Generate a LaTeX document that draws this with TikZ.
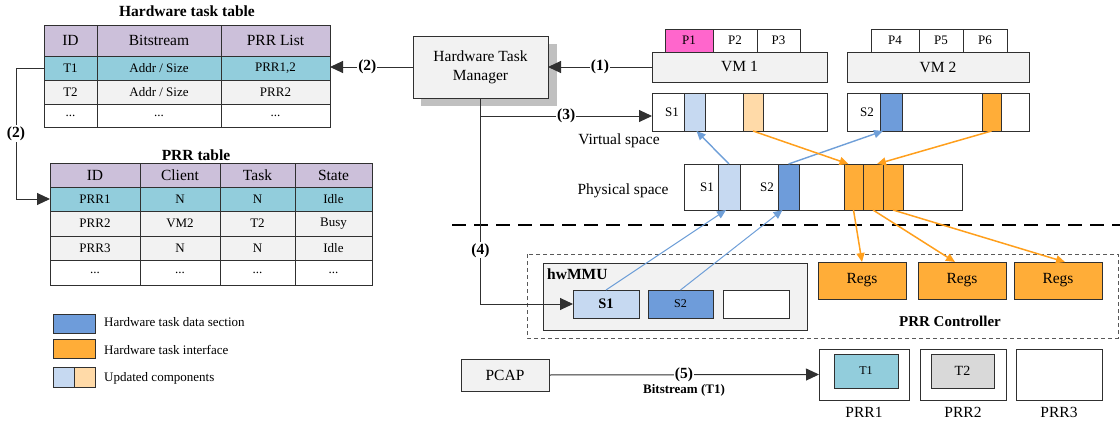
\documentclass[tikz,border=0pt]{standalone}
\usepackage{fontspec}
\setmainfont{Liberation Serif}
\usetikzlibrary{arrows.meta,fit,calc}
\definecolor{hdr}{HTML}{CCC0DA}
\definecolor{cyanrow}{HTML}{92CDDC}
\definecolor{grayrow}{HTML}{F2F2F2}
\definecolor{blu}{HTML}{6E9CDA}
\definecolor{lblu}{HTML}{C6D9F1}
\definecolor{org}{HTML}{FFAD38}
\definecolor{lorg}{HTML}{FFDAA8}
\definecolor{mag}{HTML}{FF66CC}
\definecolor{shad}{HTML}{C0C0C0}
\definecolor{linec}{HTML}{303030}
\definecolor{orgline}{HTML}{FF9F1C}
\definecolor{bluline}{HTML}{6F9FD8}
\definecolor{grayin}{HTML}{D9D9D9}
\newcommand{\mybox}[7]{%
  \node[#1, fit={(#3,#4)(#5,#6)}] (#2) {};
  \node[#1, draw=none, fill=none, inner sep=0pt, anchor=center] at (#2.center) {#7};}
\tikzset{
  bxs/.style={draw=linec, line width=0.9pt, inner sep=0pt, outer sep=0pt},
  fbig/.style={font=\fontsize{15.5}{18}\selectfont},
  fsmall/.style={font=\fontsize{13}{15}\selectfont},
  cellh/.style={bxs, fill=hdr, fbig},
  cellc/.style={bxs, fill=cyanrow, fsmall},
  cellg/.style={bxs, fill=grayrow, fsmall},
  cellw/.style={bxs, fill=white, fsmall},
  graybox/.style={bxs, fill=grayrow, fbig},
  whitebox/.style={bxs, fill=white},
  bluebox/.style={bxs, fill=blu},
  lbluebox/.style={bxs, fill=lblu},
  orgbox/.style={bxs, fill=org, fbig},
  lorgbox/.style={bxs, fill=lorg},
  lbl/.style={font=\bfseries\fontsize{15.5}{18}\selectfont, fill=white, inner sep=1pt},
  conn/.style={draw=linec, line width=1pt},
  arr/.style={conn, -{Triangle[length=13pt,width=12pt]}},
  barr/.style={draw=bluline, line width=1.4pt, -{Triangle[length=9pt,width=8pt]}},
  bthin/.style={draw=bluline, line width=1pt, -{Triangle[length=9pt,width=8pt]}},
  oarr/.style={draw=orgline, line width=1.5pt, -{Triangle[length=9pt,width=8pt]}},
  txt/.style={fbig, inner sep=0pt},
  stxt/.style={fsmall, inner sep=0pt},
}
\begin{document}
\begin{tikzpicture}[x=1pt,y=-1pt]
\useasboundingbox (0,0) rectangle (1120,423);

% ---------- Hardware task table
\node[font=\bfseries\fontsize{15.5}{18}\selectfont] (tt1) at (187,11) {Hardware task table};
\mybox{cellh}{h1a}{44}{25}{97}{56}{ID}
\mybox{cellh}{h1b}{97}{25}{221}{56}{Bitstream}
\mybox{cellh}{h1c}{221}{25}{330}{56}{PRR List}
\mybox{cellc}{t1id}{44}{56}{97}{80}{T1}
\mybox{cellc}{t1bs}{97}{56}{221}{80}{Addr / Size}
\mybox{cellc}{t1prr}{221}{56}{330}{80}{PRR1,2}
\mybox{cellg}{t2id}{44}{80}{97}{104}{T2}
\mybox{cellg}{t2bs}{97}{80}{221}{104}{Addr / Size}
\mybox{cellg}{t2prr}{221}{80}{330}{104}{PRR2}
\mybox{cellw}{t3id}{44}{104}{97}{127}{...}
\mybox{cellw}{t3bs}{97}{104}{221}{127}{...}
\mybox{cellw}{t3prr}{221}{104}{330}{127}{...}

% ---------- PRR table
\node[font=\bfseries\fontsize{15.5}{18}\selectfont] (tt2) at (196,155) {PRR table};
\mybox{cellh}{h2a}{50}{163}{140}{187}{ID}
\mybox{cellh}{h2b}{140}{163}{220}{187}{Client}
\mybox{cellh}{h2c}{220}{163}{295}{187}{Task}
\mybox{cellh}{h2d}{295}{163}{372}{187}{State}
\mybox{cellc}{p1id}{50}{187}{140}{211}{PRR1}
\mybox{cellc}{p1b}{140}{187}{220}{211}{N}
\mybox{cellc}{p1c}{220}{187}{295}{211}{N}
\mybox{cellc}{p1d}{295}{187}{372}{211}{Idle}
\mybox{cellg}{p2id}{50}{211}{140}{236}{PRR2}
\mybox{cellg}{p2b}{140}{211}{220}{236}{VM2}
\mybox{cellg}{p2c}{220}{211}{295}{236}{T2}
\mybox{cellg}{p2d}{295}{211}{372}{236}{Busy}
\mybox{cellg}{p3id}{50}{236}{140}{260}{PRR3}
\mybox{cellg}{p3b}{140}{236}{220}{260}{N}
\mybox{cellg}{p3c}{220}{236}{295}{260}{N}
\mybox{cellg}{p3d}{295}{236}{372}{260}{Idle}
\mybox{cellw}{p4id}{50}{260}{140}{285}{...}
\mybox{cellw}{p4b}{140}{260}{220}{285}{...}
\mybox{cellw}{p4c}{220}{260}{295}{285}{...}
\mybox{cellw}{p4d}{295}{260}{372}{285}{...}

% ---------- legend
\mybox{bluebox}{leg1}{53}{314}{95}{333}{}
\mybox{orgbox}{leg2}{53}{339}{95}{358}{}
\mybox{lbluebox}{leg3a}{53}{367}{74}{387}{}
\mybox{lorgbox}{leg3b}{74}{367}{95}{387}{}
\node[stxt, anchor=west] (lt1) at (104,322) {Hardware task data section};
\node[stxt, anchor=west] (lt2) at (104,350) {Hardware task interface};
\node[stxt, anchor=west] (lt3) at (104,378) {Updated components};

% ---------- Hardware Task Manager
\fill[shad] (421,44) rectangle (557,106);
\mybox{graybox, align=center, font=\fontsize{15.5}{19}\selectfont}{htm}{413}{36}{548}{98}{Hardware Task\\Manager}

% ---------- VMs
\mybox{bxs, fill=mag, fsmall}{pa}{665}{29}{713}{52}{P1}
\mybox{cellw}{pb}{713}{29}{757}{52}{P2}
\mybox{cellw}{pc}{757}{29}{800}{52}{P3}
\mybox{graybox}{vm1}{652}{52}{827}{82}{VM 1}
\mybox{cellw}{pd}{871}{29}{919}{52}{P4}
\mybox{cellw}{pe}{919}{29}{963}{52}{P5}
\mybox{cellw}{pf}{963}{29}{1007}{52}{P6}
\mybox{graybox}{vm2}{847}{52}{1029}{82}{VM 2}

% ---------- virtual space
\mybox{whitebox}{v1}{652}{93}{827}{131}{}
\node[stxt] (v1s) at (672,112) {S1};
\mybox{lbluebox}{vb1}{684}{93}{705}{131}{}
\mybox{lorgbox}{vo1}{743}{93}{763}{131}{}
\mybox{whitebox}{v2}{847}{93}{1029}{131}{}
\node[stxt] (v2s) at (867,112) {S2};
\mybox{bluebox}{vb2}{880}{93}{902}{131}{}
\mybox{orgbox}{vo2}{982}{93}{1001}{131}{}
\node[txt] (vtxt) at (619,141) {Virtual space};

% ---------- physical space
\mybox{whitebox}{ph}{684}{164}{962}{210}{}
\node[stxt] (phs1) at (707,187) {S1};
\mybox{lbluebox}{pb1}{718}{164}{740}{210}{}
\node[stxt] (phs2) at (767,187) {S2};
\mybox{bluebox}{pb2}{778}{164}{799}{210}{}
\mybox{orgbox}{po1}{844}{164}{863}{210}{}
\mybox{orgbox}{po2}{863}{164}{883}{210}{}
\mybox{orgbox}{po3}{883}{164}{903}{210}{}
\node[txt] (ptxt) at (623,191) {Physical space};

% ---------- separator
\coordinate (sepL) at (452,225);
\coordinate (sepR) at (1120,225);
\draw[black, line width=1.8pt, dash pattern=on 14pt off 8pt] (sepL) -- (sepR);

% ---------- PRR controller area
\draw[draw=black!65, line width=0.9pt, dash pattern=on 4pt off 3pt] (527,254) rectangle (1118,338);
\mybox{graybox}{hw}{543}{263}{807}{330}{}
\node[font=\bfseries\fontsize{15.5}{18}\selectfont, anchor=west, inner sep=0pt] (hwl) at (547,274) {hwMMU};
\mybox{lbluebox, font=\bfseries\fontsize{14.5}{16}\selectfont}{hs1}{573}{290}{639}{318}{S1}
\mybox{bluebox, font=\fontsize{12}{14}\selectfont}{hs2}{648}{290}{713}{318}{S2}
\mybox{whitebox}{hs3}{723}{290}{789}{318}{}
\mybox{orgbox}{r1}{818}{262}{906}{299}{Regs}
\mybox{orgbox}{r2}{918}{262}{1006}{299}{Regs}
\mybox{orgbox}{r3}{1014}{262}{1102}{299}{Regs}
\node[font=\bfseries\fontsize{15}{18}\selectfont] (prrc) at (950,321) {PRR Controller};

% ---------- PCAP and PRRs
\mybox{graybox}{pcap}{461}{359}{549}{391}{PCAP}
\mybox{whitebox}{prr1}{819}{349}{909}{400}{}
\mybox{bxs, fill=cyanrow, font=\fontsize{12}{14}\selectfont}{tk1}{834}{354}{898}{388}{T1}
\mybox{whitebox}{prr2}{920}{349}{1006}{400}{}
\mybox{bxs, fill=grayin, font=\fontsize{14}{16}\selectfont}{tk2}{931}{354}{994}{388}{T2}
\mybox{whitebox}{prr3}{1016}{349}{1102}{400}{}
\node[fbig] (l1) at (864,412) {PRR1};
\node[fbig] (l2) at (963,412) {PRR2};
\node[fbig] (l3) at (1059,412) {PRR3};

% ---------- black connectors
\draw[arr] (vm1.west) -- node[lbl]{(1)} (htm.east);
\draw[arr] (htm.west) -- node[lbl, pos=0.55]{(2)} (htm.west -| t1prr.east);
\draw[arr] (t1id.west) -- ++(-28,0) |- node[lbl, pos=0.25]{(2)} (p1id.west);
\coordinate (c3) at (481,116);
\draw[arr] (htm.south |- c3) -- node[lbl]{(3)} (v1.west |- c3);
\draw[arr] (htm.south) |- node[lbl, pos=0.37]{(4)} (hs1.west);
\draw[arr] (pcap.east) -- node[lbl]{(5)}
  node[font=\bfseries\fontsize{13}{15}\selectfont, yshift=-16pt]{Bitstream (T1)} (prr1.west);

% ---------- coloured arrows
\draw[barr] (pb1.north) -- ($(vb1.south)+(2,0)$);
\draw[barr] (pb2.north) -- ($(vb2.south west)+(3,0)$);
\draw[oarr] (vo1.south) -- ($(po1.north)+(-5,0)$);
\draw[oarr] (vo2.south) -- ($(po2.north)+(4,0)$);
\draw[oarr] (po1.south) -- (r1.north);
\draw[oarr] (po2.south) -- ($(r2.north)+(-7,0)$);
\draw[oarr] (po3.south) -- ($(r3.north)+(7,0)$);
\draw[bthin] (hs1.north) -- ($(pb1.south)+(-3,0)$);
\draw[bthin] (hs2.north) -- ($(pb2.south)+(-6,0)$);
\end{tikzpicture}
\end{document}
